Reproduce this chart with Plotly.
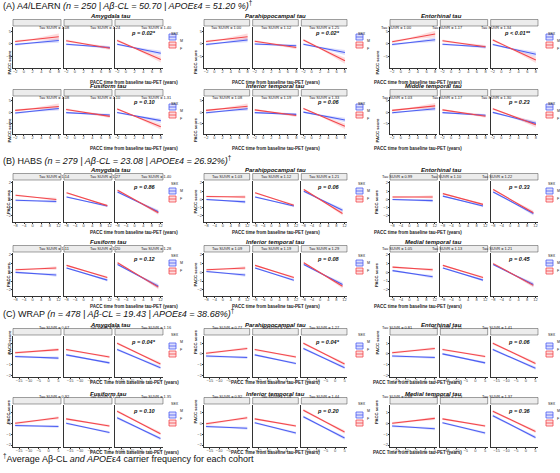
import plotly.graph_objects as go

W, H = 560, 473
FONT = "Liberation Sans, Arial, sans-serif"
BLUE, RED = "#4b5ef2", "#f2474c"
BLUE_FILL, RED_FILL = "rgba(95,105,240,0.22)", "rgba(245,95,100,0.22)"

# ---------------- data ----------------
COHORT_TITLES = [
    "(A) A4/LEARN <i>(n = 250 | Aβ-CL = 50.70 | APOEε4 = 51.20 %)</i><sup>†</sup>",
    "(B) HABS <i>(n = 279 | Aβ-CL = 23.08 | APOEε4 = 26.92%)</i><sup>†</sup>",
    "(C) WRAP <i>(n = 478 | Aβ-CL = 19.43 | APOEε4 = 38.68%)</i><sup>†</sup>",
]
REGIONS_A = ["Amygdala tau", "Parahippocampal tau", "Entorhinal tau",
             "Fusiform tau", "Inferior temporal tau", "Middle temporal tau"]
REGIONS_B = ["Amygdala tau", "Parahippocampal tau", "Entorhinal tau",
             "Fusiform tau", "Inferior temporal tau", "Medial temporal tau"]
REGIONS_C = REGIONS_B

SUVR_A = [[1.08, 1.24, 1.40], [1.00, 1.12, 1.25], [1.00, 1.17, 1.34],
          [1.08, 1.10, 1.31], [1.08, 1.19, 1.33], [1.03, 1.17, 1.30]]
SUVR_B = [[1.14, 1.27, 1.40], [1.03, 1.12, 1.21], [0.99, 1.10, 1.22],
          [1.11, 1.20, 1.28], [1.09, 1.19, 1.29], [1.05, 1.13, 1.21]]
SUVR_C = [[0.67, 0.92, 1.16], [0.77, 1.02, 1.27], [0.81, 1.11, 1.41],
          [0.92, 1.13, 1.35], [0.92, 1.18, 1.44], [0.88, 1.13, 1.37]]

P_A = ["p = 0.02*", "p = 0.02*", "p < 0.01**", "p = 0.10", "p = 0.06", "p = 0.23"]
P_B = ["p = 0.86", "p = 0.06", "p = 0.33", "p = 0.12", "p = 0.08", "p = 0.45"]
P_C = ["p = 0.04*", "p = 0.04*", "p = 0.06", "p = 0.10", "p = 0.20", "p = 0.36"]

# fitted lines: (value at first x, value at last x) per facet
A_MALE = [[(-0.3, 1.3), (-0.2, -1.5), (-0.2, -3.8)],
          [(-0.3, 1.5), (-0.1, -0.8), (-0.2, -3.5)],
          [(-0.3, 1.6), (-0.2, -1.3), (-0.3, -4.2)],
          [(-0.4, 1.6), (-0.2, -1.3), (-0.2, -3.8)],
          [(-0.3, 1.5), (-0.2, -1.0), (0.0, -3.5)],
          [(-0.3, 1.5), (-0.2, -1.4), (-0.1, -5.0)]]
A_FEMALE = [[(0.9, 2.8), (1.2, -1.8), (1.3, -6.3)],
            [(0.9, 2.8), (1.0, -1.5), (1.5, -6.8)],
            [(0.8, 3.9), (1.2, -1.2), (1.5, -6.5)],
            [(0.8, 2.5), (1.2, -1.9), (1.4, -6.5)],
            [(0.8, 2.6), (1.0, -1.5), (1.6, -6.3)],
            [(0.8, 2.8), (1.0, -1.8), (1.5, -5.6)]]
B_MALE = [[(-0.1, -0.25), (0.3, -0.8), (0.9, -1.5)],
          [(0.0, -0.3), (0.3, -0.8), (1.0, -1.3)],
          [(0.0, -0.15), (0.4, -0.8), (0.9, -1.7)],
          [(0.0, -0.3), (0.5, -0.9), (0.9, -1.6)],
          [(0.1, -0.3), (0.5, -0.9), (0.9, -1.4)],
          [(0.2, -0.5), (0.5, -0.9), (0.9, -1.4)]]
B_FEMALE = [[(0.5, 0.0), (0.8, -0.75), (1.1, -1.6)],
            [(0.35, 0.3), (0.8, -0.7), (1.2, -1.7)],
            [(0.3, 0.3), (0.7, -0.6), (1.2, -1.6)],
            [(0.3, 0.5), (0.8, -0.6), (1.1, -1.7)],
            [(0.3, 0.5), (0.8, -0.6), (1.1, -1.6)],
            [(0.6, 0.3), (0.8, -0.6), (1.0, -1.5)]]
C_MALE = [[(-0.25, -0.4), (-0.1, -0.85), (0.4, -1.3)],
          [(-0.2, -0.35), (-0.1, -0.9), (0.5, -1.3)],
          [(-0.2, -0.35), (0.0, -0.85), (0.4, -1.35)],
          [(-0.2, -0.3), (0.0, -0.85), (0.5, -1.4)],
          [(-0.3, -0.45), (0.05, -0.9), (0.6, -1.35)],
          [(-0.25, -0.5), (0.05, -0.9), (0.7, -1.3)]]
C_FEMALE = [[(0.1, 0.4), (0.4, -0.3), (1.0, -0.95)],
            [(0.05, 0.5), (0.4, -0.3), (1.0, -0.95)],
            [(0.1, 0.5), (0.4, -0.25), (1.0, -0.9)],
            [(0.0, 0.5), (0.4, -0.25), (1.1, -0.95)],
            [(-0.05, 0.5), (0.4, -0.25), (1.2, -0.8)],
            [(0.0, 0.45), (0.4, -0.25), (1.1, -0.75)]]

# confidence band half-widths at (first x, narrowest x, last x), per facet
A_BAND_M = [[0.5, 0.3, 0.9], [0.4, 0.3, 0.6], [0.4, 0.3, 1.0]]
A_BAND_F = [[0.5, 0.35, 1.3], [0.5, 0.3, 0.7], [0.5, 0.3, 1.2]]
B_BAND_M = [[0.12, 0.07, 0.2], [0.1, 0.06, 0.15], [0.12, 0.07, 0.25]]
B_BAND_F = [[0.12, 0.07, 0.2], [0.1, 0.06, 0.15], [0.12, 0.07, 0.25]]
C_BAND_M = [[0.12, 0.08, 0.14], [0.1, 0.07, 0.12], [0.12, 0.08, 0.15]]
C_BAND_F = [[0.12, 0.08, 0.14], [0.1, 0.07, 0.12], [0.12, 0.08, 0.15]]

BAND_X_A = [-2, 2, 8]
BAND_X_B = [-8, 2, 11]
BAND_X_C = [-17, -5, 5]

X_TICKS_A = [-2, 0, 2, 4, 6, 8]
X_TICKS_B = [-8, -4, 0, 4, 8, 12]
X_TICKS_C = [-15, -10, -5, 0, 5]
Y_TICKS_A = [-5, 0, 5]
Y_TICKS_B = [-2, -1, 0, 1, 2]
Y_TICKS_C = [-2, -1, 0, 1]

X_TITLE = ["PACC time from baseline tau-PET (years)"] * 2 + ["PACC Time from baseline tau-PET (years)"]
SEX_LABELS = ["M", "F"]
FOOTNOTE = "<sup>†</sup>Average Aβ-CL <i>and APOE</i>ε4 carrier frequency for each cohort"

COHORTS = [
    dict(regions=REGIONS_A, suvr=SUVR_A, p=P_A, male=A_MALE, female=A_FEMALE,
         bm=A_BAND_M, bf=A_BAND_F, bx=BAND_X_A, xt=X_TICKS_A, yt=Y_TICKS_A,
         xr=[-2.5, 8.5], yr=[-9.75, 6.75]),
    dict(regions=REGIONS_B, suvr=SUVR_B, p=P_B, male=B_MALE, female=B_FEMALE,
         bm=B_BAND_M, bf=B_BAND_F, bx=BAND_X_B, xt=X_TICKS_B, yt=Y_TICKS_B,
         xr=[-9.2, 13.2], yr=[-2.725, 2.225]),
    dict(regions=REGIONS_C, suvr=SUVR_C, p=P_C, male=C_MALE, female=C_FEMALE,
         bm=C_BAND_M, bf=C_BAND_F, bx=BAND_X_C, xt=X_TICKS_C, yt=Y_TICKS_C,
         xr=[-18.1, 6.3], yr=[-2.175, 1.675]),
]

# ---------------- layout geometry (pixels) ----------------
GROUPS_X = [(13, 163), (204, 347), (390, 538)]
FACET_GAP = 3
ROWS_Y = [(27, 68), (97, 134), (181, 222), (253, 296), (336, 377), (405, 447)]
COHORT_TITLE_Y = [5, 160, 313]
LEGEND_X = [169, 356, 546]


def px(x):
    return x / W


def py(y):
    return 1 - y / H


fig = go.Figure()
layout = dict(width=W, height=H, margin=dict(l=0, r=0, t=0, b=0),
              paper_bgcolor="white", plot_bgcolor="white", showlegend=False,
              font=dict(family=FONT, color="#222"))
shapes, annos = [], []

k = 0
for ci, co in enumerate(COHORTS):
    annos.append(dict(text=COHORT_TITLES[ci], x=px(1), y=py(COHORT_TITLE_Y[ci]),
                      xref="paper", yref="paper", xanchor="left", yanchor="middle",
                      showarrow=False, font=dict(size=9, color="#111")))
    for rr in range(2):
        top, bot = ROWS_Y[ci * 2 + rr]
        for gi in range(3):
            ri = rr * 3 + gi
            gx0, gx1 = GROUPS_X[gi]
            fw = (gx1 - gx0 - 2 * FACET_GAP) / 3
            # region title
            annos.append(dict(text="<b><i>%s</i></b>" % co["regions"][ri],
                              x=px((gx0 + gx1) / 2), y=py(top - 11.2),
                              xref="paper", yref="paper", showarrow=False,
                              yanchor="middle",
                              font=dict(size=6, color="#111")))
            # y axis title
            annos.append(dict(text="<b>PACC score</b>", x=px(gx0 - 9),
                              y=py((top + bot) / 2), xref="paper", yref="paper",
                              textangle=-90, showarrow=False,
                              font=dict(size=4.2, color="#222")))
            # x axis title
            annos.append(dict(text="<b>%s</b>" % X_TITLE[ci], x=px((gx0 + gx1) / 2),
                              y=py(bot + 10), xref="paper", yref="paper",
                              showarrow=False, font=dict(size=4.5, color="#222")))
            for fi in range(3):
                k += 1
                fx0 = gx0 + fi * (fw + FACET_GAP)
                fx1 = fx0 + fw
                xa = "xaxis" if k == 1 else "xaxis%d" % k
                ya = "yaxis" if k == 1 else "yaxis%d" % k
                xn = "x" if k == 1 else "x%d" % k
                yn = "y" if k == 1 else "y%d" % k
                layout[xa] = dict(domain=[px(fx0), px(fx1)], range=co["xr"], anchor=yn,
                                  tickvals=co["xt"], showgrid=False, zeroline=False,
                                  showline=True, linecolor="#333", linewidth=0.6,
                                  ticks="outside", ticklen=1.5, tickwidth=0.5,
                                  tickcolor="#333", tickangle=0, automargin=False,
                                  ticklabelstandoff=-2,
                                  tickfont=dict(size=4, color="#444"))
                layout[ya] = dict(domain=[py(bot), py(top)], range=co["yr"], anchor=xn,
                                  tickvals=co["yt"], showgrid=False, zeroline=False,
                                  showline=True, linecolor="#333", linewidth=0.6,
                                  ticks="outside" if fi == 0 else "", ticklen=1.5,
                                  tickwidth=0.5, tickcolor="#333", automargin=False,
                                  showticklabels=(fi == 0), ticklabelstandoff=-1,
                                  tickfont=dict(size=4, color="#444"))
                # strip
                shapes.append(dict(type="rect", xref="paper", yref="paper",
                                   x0=px(fx0), x1=px(fx1), y0=py(top - 1), y1=py(top - 7.5),
                                   fillcolor="#ececec", line=dict(color="#444", width=0.5),
                                   layer="below"))
                annos.append(dict(text="Tau SUVR = %.2f" % co["suvr"][ri][fi],
                                  x=px((fx0 + fx1) / 2), y=py(top - 4.2),
                                  xref="paper", yref="paper", showarrow=False,
                                  font=dict(size=3.9, color="#222")))
                bx = co["bx"]
                for sex, lines, bands, lc, fc in (
                        (0, co["male"], co["bm"], BLUE, BLUE_FILL),
                        (1, co["female"], co["bf"], RED, RED_FILL)):
                    y0, y1 = lines[ri][fi]
                    hw = bands[fi]

                    def on_line(x):
                        return y0 + (y1 - y0) * (x - bx[0]) / (bx[2] - bx[0])
                    up = [on_line(x) + h for x, h in zip(bx, hw)]
                    lo = [on_line(x) - h for x, h in zip(bx, hw)]
                    fig.add_trace(go.Scatter(x=bx + bx[::-1], y=up + lo[::-1],
                                             fill="toself", fillcolor=fc, mode="none",
                                             xaxis=xn, yaxis=yn, hoverinfo="skip"))
                for sex, lines, lc in ((0, co["male"], BLUE), (1, co["female"], RED)):
                    y0, y1 = lines[ri][fi]
                    fig.add_trace(go.Scatter(x=[bx[0], bx[2]], y=[y0, y1], mode="lines",
                                             line=dict(color=lc, width=1.1),
                                             xaxis=xn, yaxis=yn))
                if fi == 2:
                    annos.append(dict(text="<b><i>%s</i></b>" % co["p"][ri],
                                      xref=xn + " domain", yref=yn + " domain",
                                      x=0.9, y=0.86, xanchor="right", yanchor="middle",
                                      showarrow=False, font=dict(size=5.6, color="#111")))
            # legend
            lx = LEGEND_X[gi]
            annos.append(dict(text="SEX", x=px(lx), y=py(top + 3), xref="paper",
                              yref="paper", xanchor="left", showarrow=False,
                              font=dict(size=3.6, color="#222")))
            for j, (lc, fc) in enumerate(((BLUE, BLUE_FILL), (RED, RED_FILL))):
                ky0 = top + 7 + j * 8
                shapes.append(dict(type="rect", xref="paper", yref="paper",
                                   x0=px(lx), x1=px(lx + 7), y0=py(ky0), y1=py(ky0 + 6),
                                   fillcolor=fc, line=dict(color=lc, width=0.8)))
                shapes.append(dict(type="line", xref="paper", yref="paper",
                                   x0=px(lx), x1=px(lx + 7), y0=py(ky0 + 3), y1=py(ky0 + 3),
                                   line=dict(color=lc, width=0.8)))
                annos.append(dict(text=SEX_LABELS[j], x=px(lx + 8.5), y=py(ky0 + 3),
                                  xref="paper", yref="paper", xanchor="left",
                                  showarrow=False, font=dict(size=3.6, color="#222")))

annos.append(dict(text=FOOTNOTE, x=px(1), y=py(466), xref="paper", yref="paper",
                  xanchor="left", showarrow=False, font=dict(size=9, color="#111")))

layout["shapes"] = shapes
layout["annotations"] = annos
fig.update_layout(**layout)
fig.write_html("out.html")
